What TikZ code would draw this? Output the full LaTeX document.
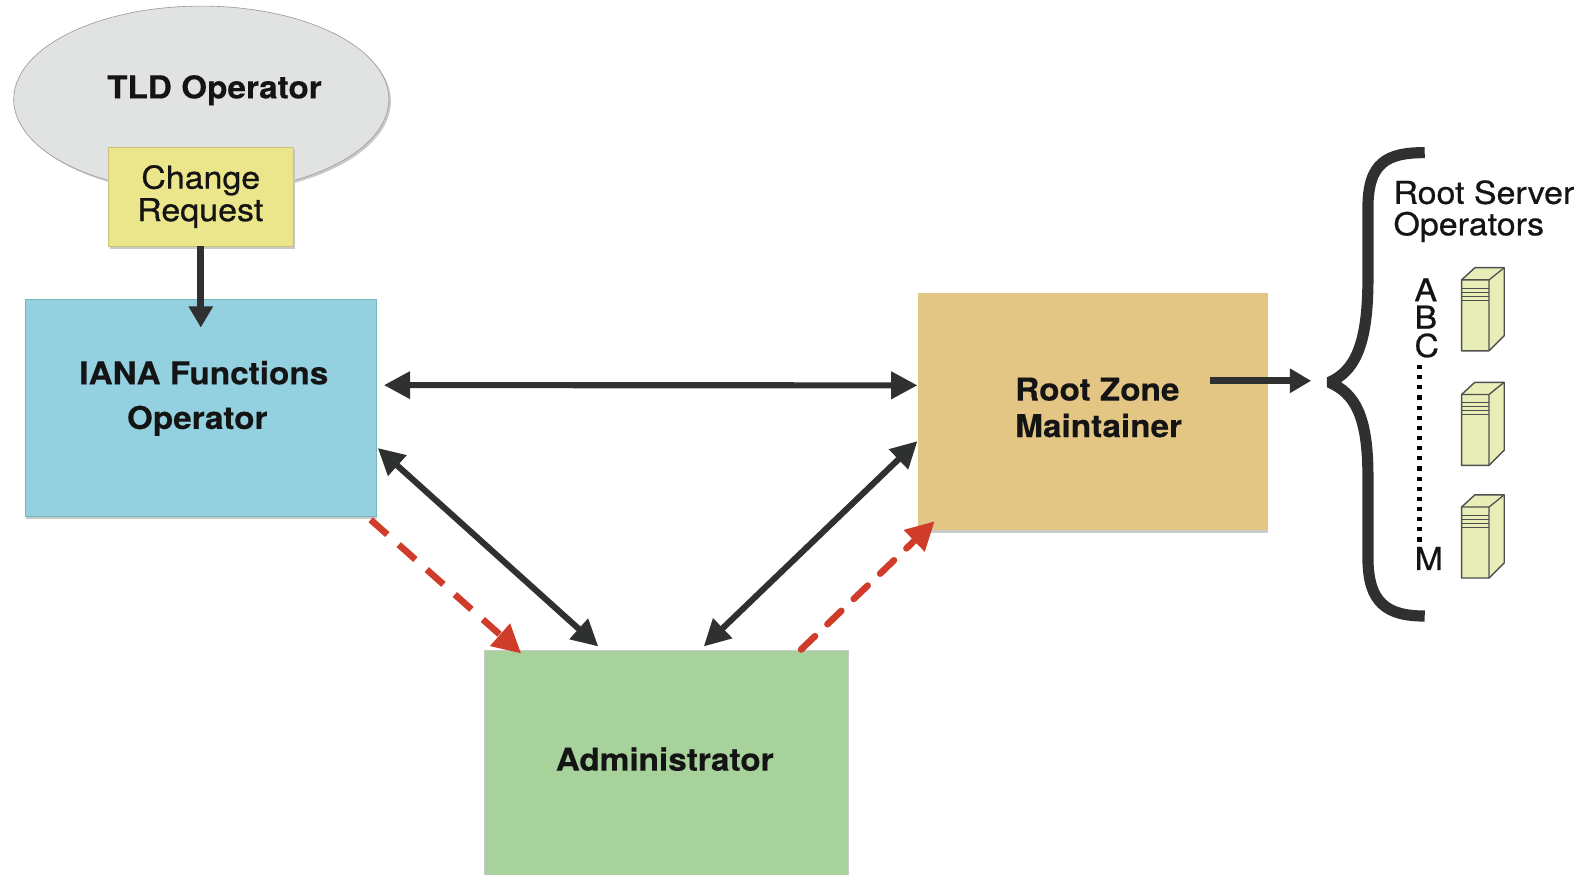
\documentclass[tikz,border=0pt]{standalone}
\usepackage{fontspec}
\setmainfont{TeX Gyre Heros}
\newfontfamily\bfwide[FakeStretch=1.06,FakeBold=0.3]{TeX Gyre Heros Bold}
\newfontfamily\mdwide[FakeStretch=1.08,FakeBold=0.7]{TeX Gyre Heros}
\usetikzlibrary{arrows.meta,shapes.geometric,shadows}
\definecolor{ink}{HTML}{2F3130}
\definecolor{redd}{HTML}{D03C2A}
\definecolor{cgrey}{HTML}{E1E3E2}
\definecolor{cyell}{HTML}{EBE68B}
\definecolor{cblue}{HTML}{94D1E0}
\definecolor{ctan}{HTML}{E3C584}
\definecolor{cgreen}{HTML}{A8D29C}
\definecolor{csrv}{HTML}{E9EDB8}
\definecolor{shad}{HTML}{C9CBCA}
\tikzset{
  x=1pt,y=-1pt,
  boxbase/.style={inner sep=0pt,outer sep=0pt,draw=#1!85!black,line width=.6pt},
  lbl/.style={font=\fontsize{31}{32}\bfwide,text=black!92,inner sep=0pt,anchor=base west},
  lblr/.style={font=\fontsize{31}{32}\mdwide,text=black!92,inner sep=0pt,anchor=base west},
  darrow/.style={draw=ink,line width=6pt,{Triangle[length=26pt,width=26pt]}-{Triangle[length=26pt,width=26pt]}},
  sarrow/.style={draw=ink,line width=7pt,-{Triangle[length=21pt,width=23pt]}},
  redarrow/.style={draw=redd,line width=6.5pt,dash pattern=on 22pt off 15pt,-{Triangle[length=28pt,width=28pt]}},
  srv/.style={draw=ink!85,fill=csrv,line width=1.4pt,line join=round},
  srvl/.style={draw=ink!85,line width=.9pt},
}
\newcommand{\srvbox}[1]{%
  \begin{scope}[yshift=#1,xshift=-.6pt]
    \path[srv] (1442,276) -- (1455,264) -- (1484,264) -- (1484,331) -- (1469,346) -- (1442,346) -- cycle;
    \path[srvl,line width=1.3pt] (1442,276) -- (1469,276) -- (1484,264) (1469,276) -- (1469,346);
    \path[srvl] (1442,284) -- (1469,284) (1442,288) -- (1469,288) (1442,292) -- (1469,292) (1442,296) -- (1469,296);
  \end{scope}}
\begin{document}
\begin{tikzpicture}
\path[use as bounding box,fill=white] (0,0) rectangle (1567,862);
\node[ellipse,minimum width=370pt,minimum height=184pt,inner sep=0pt,fill=cgrey,draw=gray!80,line width=.6pt,
  general shadow={shadow xshift=2pt,shadow yshift=-2pt,fill=shad}] (tld) at (198.5,98) {};
\node[lbl,anchor=base] (tldt) at (211.5,97) {TLD Operator};
\node[boxbase=cyell,fill=cyell,minimum width=182.5pt,minimum height=98pt,
  general shadow={shadow xshift=1.5pt,shadow yshift=-2.5pt,fill=shad}] (cr) at (198.3,194) {};
\node[lblr,anchor=base] (cr1) at (198,186) {Change};
\node[lblr,anchor=base] (cr2) at (197.5,218) {Request};
\node[boxbase=cblue,fill=cblue,minimum width=346.5pt,minimum height=214.5pt,
  general shadow={shadow xshift=.5pt,shadow yshift=-2pt,fill=shad}] (iana) at (198.3,402.3) {};
\node[lbl,anchor=base] (iana1) at (201,379) {IANA Functions};
\node[lbl,anchor=base] (iana2) at (194.5,423) {Operator};
\node[inner sep=0pt,outer sep=0pt,fill=ctan,minimum width=344.5pt,minimum height=234pt,
  general shadow={shadow xshift=0pt,shadow yshift=-2.5pt,fill=shad}] (rzm) at (1078,406) {};
\node[lbl] (rzm1) at (1001,395) {Root Zone};
\node[lbl] (rzm2) at (1001,431) {Maintainer};
\node[inner sep=0pt,outer sep=0pt,fill=cgreen,draw=shad,line width=1pt,minimum width=359pt,minimum height=230pt] (adm) at (657.5,756.5) {};
\node[lbl,anchor=base] (admt) at (655.5,760) {Administrator};
\coordinate (brc) at (1293,375.5);
%
\draw[sarrow] (cr.south -| 198,0) -- ([yshift=-28pt]iana.north -| 198,0);
\draw[darrow] ([xshift=7pt,yshift=22.5pt]iana.east) -- ([xshift=-1pt,yshift=26pt]rzm.west);
\draw[darrow] ([xshift=1pt,yshift=-39.5pt]iana.east) -- ([xshift=-67.5pt,yshift=4pt]adm.north);
\draw[darrow] ([xshift=-1pt,yshift=-29pt]rzm.west) -- ([xshift=36.5pt,yshift=4pt]adm.north);
\draw[sarrow] ([xshift=115pt,yshift=30.5pt]rzm.center) -- (brc);
\draw[redarrow] ([xshift=-6pt,yshift=-3pt]iana.south east) -- ([xshift=-143.5pt,yshift=-3pt]adm.north);
\draw[redarrow,line cap=round,dash pattern=on 19pt off 17pt] ([xshift=132.5pt,yshift=1pt]adm.north) -- ([xshift=16pt,yshift=9pt]rzm.south west);
%
\draw[ink,line width=11pt,line join=bevel] (1405,150.5) .. controls (1368,150.5) and (1349,160) .. (1349,205)
  -- (1349,275) .. controls (1349,340) and (1336,366) .. (1311,377)
  .. controls (1336,388) and (1349,410) .. (1349,470)
  -- (1349,550) .. controls (1349,595) and (1368,607.5) .. (1405,607.5);
\node[lblr] (rs1) at (1374,201) {Root Server};
\node[lblr] (rs2) at (1374,232) {Operators};
\node[lblr,anchor=base] (la) at (1406,297) {A};
\node[lblr,anchor=base] (lb) at (1406,324) {B};
\node[lblr,anchor=base] (lc) at (1407,352) {C};
\node[lblr,anchor=base] (lm) at (1409,562) {M};
\draw[black,line width=4.5pt,dash pattern=on 4pt off 6pt] (1400,360) -- (1400,536);
\srvbox{0pt}
\srvbox{-113pt}
\srvbox{-224pt}
\end{tikzpicture}
\end{document}
